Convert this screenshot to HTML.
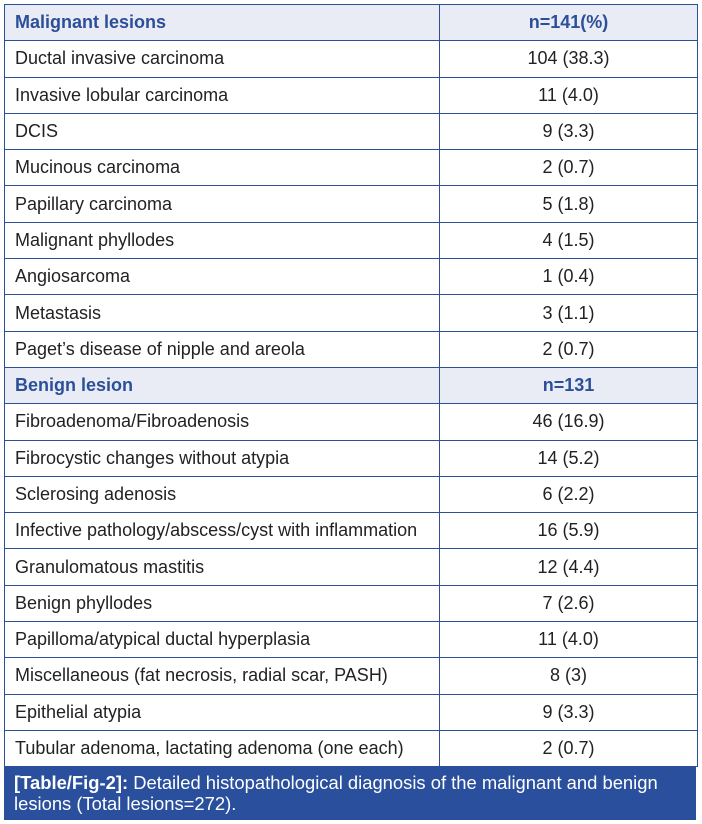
<!DOCTYPE html>
<html><head><style>
body{margin:0;width:702px;height:824px;background:#fff;font-family:"Liberation Sans",sans-serif;position:relative;overflow:hidden}
table{position:absolute;left:4px;top:4px;width:694px;border-collapse:collapse;table-layout:fixed}
td{height:35.3px;border:1px solid #2c4f9a;padding:0 0 0 10px;font-size:18px;color:#222;white-space:nowrap}
td.n{text-align:center;padding:0}
tr.h td{background:#e9ecf4;color:#2c4f9a;font-weight:bold}
.cap{position:absolute;left:4px;top:766px;width:682px;background:#2a4f9c;color:#fff;font-size:18.4px;line-height:21px;padding:6px 0 0 10px;height:48px;white-space:nowrap}
</style></head><body>
<table>
<col style="width:435px"><col>
<tr class="h"><td>Malignant lesions</td><td class="n">n=141(%)</td></tr>
<tr><td>Ductal invasive carcinoma</td><td class="n">104 (38.3)</td></tr>
<tr><td>Invasive lobular carcinoma</td><td class="n">11 (4.0)</td></tr>
<tr><td>DCIS</td><td class="n">9 (3.3)</td></tr>
<tr><td>Mucinous carcinoma</td><td class="n">2 (0.7)</td></tr>
<tr><td>Papillary carcinoma</td><td class="n">5 (1.8)</td></tr>
<tr><td>Malignant phyllodes</td><td class="n">4 (1.5)</td></tr>
<tr><td>Angiosarcoma</td><td class="n">1 (0.4)</td></tr>
<tr><td>Metastasis</td><td class="n">3 (1.1)</td></tr>
<tr><td>Paget’s disease of nipple and areola</td><td class="n">2 (0.7)</td></tr>
<tr class="h"><td>Benign lesion</td><td class="n">n=131</td></tr>
<tr><td>Fibroadenoma/Fibroadenosis</td><td class="n">46 (16.9)</td></tr>
<tr><td>Fibrocystic changes without atypia</td><td class="n">14 (5.2)</td></tr>
<tr><td>Sclerosing adenosis</td><td class="n">6 (2.2)</td></tr>
<tr><td>Infective pathology/abscess/cyst with inflammation</td><td class="n">16 (5.9)</td></tr>
<tr><td>Granulomatous mastitis</td><td class="n">12 (4.4)</td></tr>
<tr><td>Benign phyllodes</td><td class="n">7 (2.6)</td></tr>
<tr><td>Papilloma/atypical ductal hyperplasia</td><td class="n">11 (4.0)</td></tr>
<tr><td>Miscellaneous (fat necrosis, radial scar, PASH)</td><td class="n">8 (3)</td></tr>
<tr><td>Epithelial atypia</td><td class="n">9 (3.3)</td></tr>
<tr><td>Tubular adenoma, lactating adenoma (one each)</td><td class="n">2 (0.7)</td></tr>
</table>
<div class="cap"><b>[Table/Fig-2]:</b> Detailed histopathological diagnosis of the malignant and benign<br>lesions (Total lesions=272).</div>
</body></html>
